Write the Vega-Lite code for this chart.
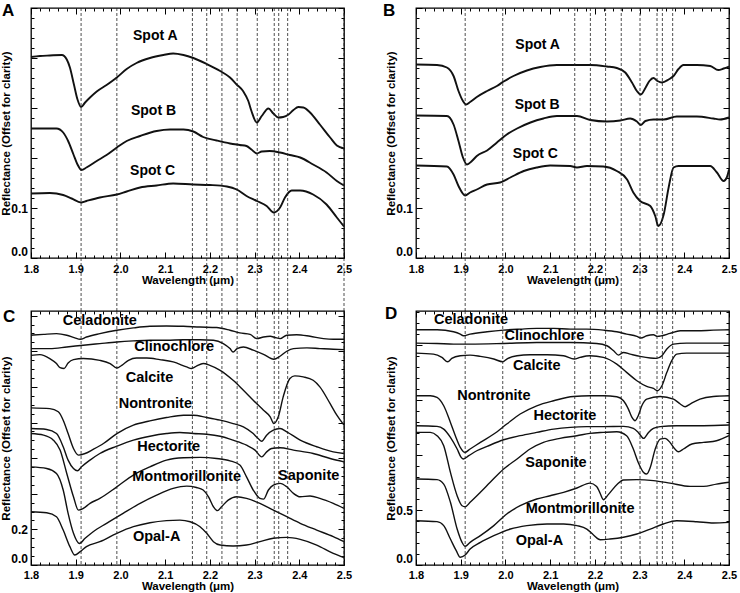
{
"$schema": "https://vega.github.io/schema/vega-lite/v6.json",
"padding": {"left": 0, "top": 0, "right": 0, "bottom": 0},
"background": "white",
"config": {
  "view": {"stroke": "black", "strokeWidth": 1.3},
  "font": "Liberation Sans",
  "axis": {"domain": false, "grid": false, "tickColor": "black", "tickWidth": 1, "labelColor": "black", "labelFont": "Liberation Sans", "labelFontWeight": "bold", "titleFont": "Liberation Sans", "titleFontWeight": "bold", "titleFontSize": 11.5, "titleColor": "black", "labelOverlap": false},
  "text": {"font": "Liberation Sans", "fontWeight": "bold", "color": "black", "align": "center", "baseline": "middle"},
  "line": {"color": "#111", "interpolate": "monotone"},
  "rule": {"color": "#222", "strokeDash": [3, 2], "strokeWidth": 0.8}
},
"datasets": {
"sA": [
{"s":"Spot A","w":1.800,"r":0.402},{"s":"Spot A","w":1.820,"r":0.404},{"s":"Spot A","w":1.842,"r":0.405},{"s":"Spot A","w":1.869,"r":0.406},{"s":"Spot A","w":1.880,"r":0.397},{"s":"Spot A","w":1.887,"r":0.381},{"s":"Spot A","w":1.896,"r":0.347},{"s":"Spot A","w":1.904,"r":0.317},{"s":"Spot A","w":1.912,"r":0.302},{"s":"Spot A","w":1.921,"r":0.311},{"s":"Spot A","w":1.932,"r":0.321},{"s":"Spot A","w":1.947,"r":0.333},{"s":"Spot A","w":1.969,"r":0.346},{"s":"Spot A","w":1.992,"r":0.361},{"s":"Spot A","w":2.014,"r":0.378},{"s":"Spot A","w":2.036,"r":0.390},{"s":"Spot A","w":2.066,"r":0.400},{"s":"Spot A","w":2.096,"r":0.406},{"s":"Spot A","w":2.118,"r":0.409},{"s":"Spot A","w":2.141,"r":0.406},{"s":"Spot A","w":2.163,"r":0.400},{"s":"Spot A","w":2.193,"r":0.388},{"s":"Spot A","w":2.223,"r":0.374},{"s":"Spot A","w":2.245,"r":0.361},{"s":"Spot A","w":2.260,"r":0.347},{"s":"Spot A","w":2.275,"r":0.333},{"s":"Spot A","w":2.286,"r":0.314},{"s":"Spot A","w":2.293,"r":0.294},{"s":"Spot A","w":2.305,"r":0.271},{"s":"Spot A","w":2.316,"r":0.284},{"s":"Spot A","w":2.331,"r":0.299},{"s":"Spot A","w":2.342,"r":0.289},{"s":"Spot A","w":2.353,"r":0.281},{"s":"Spot A","w":2.364,"r":0.282},{"s":"Spot A","w":2.376,"r":0.287},{"s":"Spot A","w":2.387,"r":0.296},{"s":"Spot A","w":2.398,"r":0.302},{"s":"Spot A","w":2.409,"r":0.301},{"s":"Spot A","w":2.424,"r":0.291},{"s":"Spot A","w":2.446,"r":0.267},{"s":"Spot A","w":2.469,"r":0.241},{"s":"Spot A","w":2.484,"r":0.225},{"s":"Spot A","w":2.500,"r":0.219},
{"s":"Spot B","w":1.800,"r":0.259},{"s":"Spot B","w":1.828,"r":0.259},{"s":"Spot B","w":1.857,"r":0.259},{"s":"Spot B","w":1.872,"r":0.251},{"s":"Spot B","w":1.883,"r":0.234},{"s":"Spot B","w":1.895,"r":0.207},{"s":"Spot B","w":1.904,"r":0.187},{"s":"Spot B","w":1.913,"r":0.176},{"s":"Spot B","w":1.924,"r":0.181},{"s":"Spot B","w":1.947,"r":0.194},{"s":"Spot B","w":1.969,"r":0.206},{"s":"Spot B","w":1.992,"r":0.221},{"s":"Spot B","w":2.014,"r":0.234},{"s":"Spot B","w":2.044,"r":0.244},{"s":"Spot B","w":2.081,"r":0.254},{"s":"Spot B","w":2.111,"r":0.257},{"s":"Spot B","w":2.141,"r":0.257},{"s":"Spot B","w":2.163,"r":0.253},{"s":"Spot B","w":2.185,"r":0.242},{"s":"Spot B","w":2.215,"r":0.235},{"s":"Spot B","w":2.245,"r":0.229},{"s":"Spot B","w":2.267,"r":0.226},{"s":"Spot B","w":2.282,"r":0.224},{"s":"Spot B","w":2.293,"r":0.217},{"s":"Spot B","w":2.305,"r":0.209},{"s":"Spot B","w":2.316,"r":0.213},{"s":"Spot B","w":2.334,"r":0.214},{"s":"Spot B","w":2.357,"r":0.211},{"s":"Spot B","w":2.379,"r":0.206},{"s":"Spot B","w":2.402,"r":0.201},{"s":"Spot B","w":2.431,"r":0.187},{"s":"Spot B","w":2.461,"r":0.171},{"s":"Spot B","w":2.484,"r":0.154},{"s":"Spot B","w":2.500,"r":0.145},
{"s":"Spot C","w":1.800,"r":0.129},{"s":"Spot C","w":1.842,"r":0.130},{"s":"Spot C","w":1.872,"r":0.126},{"s":"Spot C","w":1.891,"r":0.119},{"s":"Spot C","w":1.912,"r":0.111},{"s":"Spot C","w":1.924,"r":0.114},{"s":"Spot C","w":1.954,"r":0.121},{"s":"Spot C","w":1.992,"r":0.127},{"s":"Spot C","w":2.014,"r":0.133},{"s":"Spot C","w":2.044,"r":0.141},{"s":"Spot C","w":2.081,"r":0.145},{"s":"Spot C","w":2.118,"r":0.149},{"s":"Spot C","w":2.163,"r":0.147},{"s":"Spot C","w":2.200,"r":0.146},{"s":"Spot C","w":2.238,"r":0.143},{"s":"Spot C","w":2.260,"r":0.137},{"s":"Spot C","w":2.282,"r":0.124},{"s":"Spot C","w":2.305,"r":0.114},{"s":"Spot C","w":2.327,"r":0.104},{"s":"Spot C","w":2.343,"r":0.091},{"s":"Spot C","w":2.357,"r":0.101},{"s":"Spot C","w":2.368,"r":0.121},{"s":"Spot C","w":2.383,"r":0.135},{"s":"Spot C","w":2.402,"r":0.135},{"s":"Spot C","w":2.431,"r":0.127},{"s":"Spot C","w":2.461,"r":0.107},{"s":"Spot C","w":2.484,"r":0.081},{"s":"Spot C","w":2.500,"r":0.063}
],
"sB": [
{"s":"Spot A","w":1.800,"r":0.387},{"s":"Spot A","w":1.847,"r":0.386},{"s":"Spot A","w":1.869,"r":0.381},{"s":"Spot A","w":1.884,"r":0.364},{"s":"Spot A","w":1.895,"r":0.334},{"s":"Spot A","w":1.905,"r":0.314},{"s":"Spot A","w":1.912,"r":0.307},{"s":"Spot A","w":1.921,"r":0.312},{"s":"Spot A","w":1.936,"r":0.322},{"s":"Spot A","w":1.959,"r":0.334},{"s":"Spot A","w":1.981,"r":0.344},{"s":"Spot A","w":1.996,"r":0.353},{"s":"Spot A","w":2.018,"r":0.364},{"s":"Spot A","w":2.048,"r":0.375},{"s":"Spot A","w":2.078,"r":0.382},{"s":"Spot A","w":2.115,"r":0.386},{"s":"Spot A","w":2.152,"r":0.386},{"s":"Spot A","w":2.190,"r":0.386},{"s":"Spot A","w":2.227,"r":0.383},{"s":"Spot A","w":2.249,"r":0.380},{"s":"Spot A","w":2.268,"r":0.371},{"s":"Spot A","w":2.283,"r":0.351},{"s":"Spot A","w":2.294,"r":0.334},{"s":"Spot A","w":2.303,"r":0.327},{"s":"Spot A","w":2.313,"r":0.340},{"s":"Spot A","w":2.322,"r":0.354},{"s":"Spot A","w":2.331,"r":0.360},{"s":"Spot A","w":2.340,"r":0.354},{"s":"Spot A","w":2.350,"r":0.351},{"s":"Spot A","w":2.365,"r":0.357},{"s":"Spot A","w":2.376,"r":0.364},{"s":"Spot A","w":2.387,"r":0.378},{"s":"Spot A","w":2.398,"r":0.386},{"s":"Spot A","w":2.428,"r":0.386},{"s":"Spot A","w":2.458,"r":0.384},{"s":"Spot A","w":2.476,"r":0.376},{"s":"Spot A","w":2.488,"r":0.379},{"s":"Spot A","w":2.500,"r":0.383},
{"s":"Spot B","w":1.800,"r":0.285},{"s":"Spot B","w":1.869,"r":0.284},{"s":"Spot B","w":1.884,"r":0.267},{"s":"Spot B","w":1.895,"r":0.234},{"s":"Spot B","w":1.905,"r":0.201},{"s":"Spot B","w":1.914,"r":0.187},{"s":"Spot B","w":1.925,"r":0.194},{"s":"Spot B","w":1.936,"r":0.204},{"s":"Spot B","w":1.959,"r":0.215},{"s":"Spot B","w":1.981,"r":0.231},{"s":"Spot B","w":2.003,"r":0.247},{"s":"Spot B","w":2.026,"r":0.259},{"s":"Spot B","w":2.056,"r":0.271},{"s":"Spot B","w":2.085,"r":0.279},{"s":"Spot B","w":2.115,"r":0.284},{"s":"Spot B","w":2.160,"r":0.284},{"s":"Spot B","w":2.190,"r":0.276},{"s":"Spot B","w":2.227,"r":0.273},{"s":"Spot B","w":2.257,"r":0.275},{"s":"Spot B","w":2.279,"r":0.279},{"s":"Spot B","w":2.294,"r":0.273},{"s":"Spot B","w":2.303,"r":0.266},{"s":"Spot B","w":2.313,"r":0.274},{"s":"Spot B","w":2.331,"r":0.277},{"s":"Spot B","w":2.354,"r":0.277},{"s":"Spot B","w":2.383,"r":0.283},{"s":"Spot B","w":2.428,"r":0.283},{"s":"Spot B","w":2.465,"r":0.279},{"s":"Spot B","w":2.480,"r":0.277},{"s":"Spot B","w":2.500,"r":0.281},
{"s":"Spot C","w":1.800,"r":0.185},{"s":"Spot C","w":1.869,"r":0.183},{"s":"Spot C","w":1.884,"r":0.167},{"s":"Spot C","w":1.895,"r":0.144},{"s":"Spot C","w":1.910,"r":0.125},{"s":"Spot C","w":1.921,"r":0.131},{"s":"Spot C","w":1.936,"r":0.137},{"s":"Spot C","w":1.959,"r":0.147},{"s":"Spot C","w":1.988,"r":0.151},{"s":"Spot C","w":2.011,"r":0.161},{"s":"Spot C","w":2.041,"r":0.174},{"s":"Spot C","w":2.070,"r":0.181},{"s":"Spot C","w":2.100,"r":0.185},{"s":"Spot C","w":2.145,"r":0.184},{"s":"Spot C","w":2.160,"r":0.181},{"s":"Spot C","w":2.182,"r":0.184},{"s":"Spot C","w":2.219,"r":0.183},{"s":"Spot C","w":2.249,"r":0.174},{"s":"Spot C","w":2.272,"r":0.157},{"s":"Spot C","w":2.286,"r":0.131},{"s":"Spot C","w":2.301,"r":0.114},{"s":"Spot C","w":2.324,"r":0.104},{"s":"Spot C","w":2.335,"r":0.084},{"s":"Spot C","w":2.342,"r":0.064},{"s":"Spot C","w":2.354,"r":0.087},{"s":"Spot C","w":2.365,"r":0.141},{"s":"Spot C","w":2.376,"r":0.181},{"s":"Spot C","w":2.387,"r":0.184},{"s":"Spot C","w":2.458,"r":0.184},{"s":"Spot C","w":2.473,"r":0.171},{"s":"Spot C","w":2.488,"r":0.154},{"s":"Spot C","w":2.495,"r":0.161},{"s":"Spot C","w":2.500,"r":0.177}
],
"sC": [
{"s":"Celadonite","w":1.800,"r":1.290},{"s":"Celadonite","w":1.828,"r":1.295},{"s":"Celadonite","w":1.857,"r":1.299},{"s":"Celadonite","w":1.880,"r":1.290},{"s":"Celadonite","w":1.898,"r":1.275},{"s":"Celadonite","w":1.910,"r":1.267},{"s":"Celadonite","w":1.924,"r":1.280},{"s":"Celadonite","w":1.954,"r":1.299},{"s":"Celadonite","w":1.992,"r":1.318},{"s":"Celadonite","w":2.029,"r":1.331},{"s":"Celadonite","w":2.066,"r":1.340},{"s":"Celadonite","w":2.103,"r":1.342},{"s":"Celadonite","w":2.141,"r":1.340},{"s":"Celadonite","w":2.178,"r":1.336},{"s":"Celadonite","w":2.215,"r":1.333},{"s":"Celadonite","w":2.245,"r":1.318},{"s":"Celadonite","w":2.267,"r":1.303},{"s":"Celadonite","w":2.290,"r":1.295},{"s":"Celadonite","w":2.305,"r":1.271},{"s":"Celadonite","w":2.320,"r":1.280},{"s":"Celadonite","w":2.335,"r":1.284},{"s":"Celadonite","w":2.346,"r":1.277},{"s":"Celadonite","w":2.357,"r":1.271},{"s":"Celadonite","w":2.372,"r":1.290},{"s":"Celadonite","w":2.394,"r":1.293},{"s":"Celadonite","w":2.424,"r":1.284},{"s":"Celadonite","w":2.454,"r":1.271},{"s":"Celadonite","w":2.476,"r":1.267},{"s":"Celadonite","w":2.500,"r":1.267},
{"s":"Clinochlore","w":1.800,"r":1.215},{"s":"Clinochlore","w":1.842,"r":1.215},{"s":"Clinochlore","w":1.880,"r":1.224},{"s":"Clinochlore","w":1.917,"r":1.234},{"s":"Clinochlore","w":1.954,"r":1.243},{"s":"Clinochlore","w":1.992,"r":1.252},{"s":"Clinochlore","w":2.029,"r":1.258},{"s":"Clinochlore","w":2.066,"r":1.262},{"s":"Clinochlore","w":2.103,"r":1.262},{"s":"Clinochlore","w":2.141,"r":1.265},{"s":"Clinochlore","w":2.178,"r":1.265},{"s":"Clinochlore","w":2.208,"r":1.262},{"s":"Clinochlore","w":2.230,"r":1.243},{"s":"Clinochlore","w":2.245,"r":1.215},{"s":"Clinochlore","w":2.252,"r":1.196},{"s":"Clinochlore","w":2.261,"r":1.215},{"s":"Clinochlore","w":2.275,"r":1.224},{"s":"Clinochlore","w":2.297,"r":1.206},{"s":"Clinochlore","w":2.320,"r":1.183},{"s":"Clinochlore","w":2.343,"r":1.155},{"s":"Clinochlore","w":2.357,"r":1.172},{"s":"Clinochlore","w":2.372,"r":1.200},{"s":"Clinochlore","w":2.387,"r":1.215},{"s":"Clinochlore","w":2.417,"r":1.219},{"s":"Clinochlore","w":2.446,"r":1.215},{"s":"Clinochlore","w":2.476,"r":1.211},{"s":"Clinochlore","w":2.500,"r":1.209},
{"s":"Calcite","w":1.800,"r":1.177},{"s":"Calcite","w":1.820,"r":1.181},{"s":"Calcite","w":1.842,"r":1.159},{"s":"Calcite","w":1.857,"r":1.131},{"s":"Calcite","w":1.865,"r":1.108},{"s":"Calcite","w":1.874,"r":1.103},{"s":"Calcite","w":1.883,"r":1.134},{"s":"Calcite","w":1.895,"r":1.153},{"s":"Calcite","w":1.917,"r":1.159},{"s":"Calcite","w":1.954,"r":1.149},{"s":"Calcite","w":1.977,"r":1.131},{"s":"Calcite","w":1.992,"r":1.106},{"s":"Calcite","w":2.003,"r":1.121},{"s":"Calcite","w":2.018,"r":1.149},{"s":"Calcite","w":2.036,"r":1.162},{"s":"Calcite","w":2.059,"r":1.162},{"s":"Calcite","w":2.088,"r":1.153},{"s":"Calcite","w":2.118,"r":1.140},{"s":"Calcite","w":2.148,"r":1.112},{"s":"Calcite","w":2.159,"r":1.103},{"s":"Calcite","w":2.170,"r":1.116},{"s":"Calcite","w":2.185,"r":1.131},{"s":"Calcite","w":2.200,"r":1.121},{"s":"Calcite","w":2.223,"r":1.093},{"s":"Calcite","w":2.252,"r":1.037},{"s":"Calcite","w":2.275,"r":0.981},{"s":"Calcite","w":2.297,"r":0.925},{"s":"Calcite","w":2.320,"r":0.869},{"s":"Calcite","w":2.335,"r":0.832},{"s":"Calcite","w":2.343,"r":0.794},{"s":"Calcite","w":2.353,"r":0.832},{"s":"Calcite","w":2.364,"r":0.944},{"s":"Calcite","w":2.379,"r":1.047},{"s":"Calcite","w":2.390,"r":1.062},{"s":"Calcite","w":2.409,"r":1.056},{"s":"Calcite","w":2.431,"r":1.037},{"s":"Calcite","w":2.446,"r":1.000},{"s":"Calcite","w":2.469,"r":0.906},{"s":"Calcite","w":2.484,"r":0.841},{"s":"Calcite","w":2.500,"r":0.785},
{"s":"Nontronite","w":1.800,"r":0.882},{"s":"Nontronite","w":1.842,"r":0.878},{"s":"Nontronite","w":1.861,"r":0.860},{"s":"Nontronite","w":1.872,"r":0.813},{"s":"Nontronite","w":1.883,"r":0.738},{"s":"Nontronite","w":1.895,"r":0.654},{"s":"Nontronite","w":1.906,"r":0.617},{"s":"Nontronite","w":1.921,"r":0.626},{"s":"Nontronite","w":1.939,"r":0.649},{"s":"Nontronite","w":1.962,"r":0.682},{"s":"Nontronite","w":1.992,"r":0.738},{"s":"Nontronite","w":2.029,"r":0.785},{"s":"Nontronite","w":2.066,"r":0.809},{"s":"Nontronite","w":2.103,"r":0.828},{"s":"Nontronite","w":2.141,"r":0.841},{"s":"Nontronite","w":2.163,"r":0.841},{"s":"Nontronite","w":2.193,"r":0.828},{"s":"Nontronite","w":2.223,"r":0.813},{"s":"Nontronite","w":2.252,"r":0.794},{"s":"Nontronite","w":2.275,"r":0.776},{"s":"Nontronite","w":2.297,"r":0.738},{"s":"Nontronite","w":2.308,"r":0.710},{"s":"Nontronite","w":2.316,"r":0.695},{"s":"Nontronite","w":2.327,"r":0.729},{"s":"Nontronite","w":2.342,"r":0.757},{"s":"Nontronite","w":2.357,"r":0.766},{"s":"Nontronite","w":2.372,"r":0.748},{"s":"Nontronite","w":2.402,"r":0.701},{"s":"Nontronite","w":2.439,"r":0.664},{"s":"Nontronite","w":2.476,"r":0.635},{"s":"Nontronite","w":2.500,"r":0.626},
{"s":"Hectorite","w":1.800,"r":0.766},{"s":"Hectorite","w":1.835,"r":0.761},{"s":"Hectorite","w":1.857,"r":0.738},{"s":"Hectorite","w":1.872,"r":0.664},{"s":"Hectorite","w":1.883,"r":0.589},{"s":"Hectorite","w":1.895,"r":0.542},{"s":"Hectorite","w":1.904,"r":0.529},{"s":"Hectorite","w":1.913,"r":0.551},{"s":"Hectorite","w":1.932,"r":0.589},{"s":"Hectorite","w":1.954,"r":0.626},{"s":"Hectorite","w":1.992,"r":0.667},{"s":"Hectorite","w":2.029,"r":0.701},{"s":"Hectorite","w":2.066,"r":0.723},{"s":"Hectorite","w":2.103,"r":0.738},{"s":"Hectorite","w":2.133,"r":0.744},{"s":"Hectorite","w":2.163,"r":0.738},{"s":"Hectorite","w":2.193,"r":0.734},{"s":"Hectorite","w":2.223,"r":0.723},{"s":"Hectorite","w":2.252,"r":0.701},{"s":"Hectorite","w":2.282,"r":0.673},{"s":"Hectorite","w":2.301,"r":0.645},{"s":"Hectorite","w":2.316,"r":0.607},{"s":"Hectorite","w":2.327,"r":0.635},{"s":"Hectorite","w":2.338,"r":0.654},{"s":"Hectorite","w":2.357,"r":0.658},{"s":"Hectorite","w":2.387,"r":0.645},{"s":"Hectorite","w":2.431,"r":0.626},{"s":"Hectorite","w":2.469,"r":0.598},{"s":"Hectorite","w":2.500,"r":0.579},
{"s":"Saponite","w":1.800,"r":0.738},{"s":"Saponite","w":1.828,"r":0.729},{"s":"Saponite","w":1.850,"r":0.701},{"s":"Saponite","w":1.865,"r":0.645},{"s":"Saponite","w":1.880,"r":0.514},{"s":"Saponite","w":1.895,"r":0.383},{"s":"Saponite","w":1.906,"r":0.308},{"s":"Saponite","w":1.917,"r":0.318},{"s":"Saponite","w":1.932,"r":0.346},{"s":"Saponite","w":1.954,"r":0.374},{"s":"Saponite","w":1.992,"r":0.439},{"s":"Saponite","w":2.029,"r":0.505},{"s":"Saponite","w":2.066,"r":0.551},{"s":"Saponite","w":2.103,"r":0.589},{"s":"Saponite","w":2.141,"r":0.602},{"s":"Saponite","w":2.178,"r":0.604},{"s":"Saponite","w":2.215,"r":0.598},{"s":"Saponite","w":2.245,"r":0.585},{"s":"Saponite","w":2.267,"r":0.561},{"s":"Saponite","w":2.282,"r":0.495},{"s":"Saponite","w":2.297,"r":0.421},{"s":"Saponite","w":2.312,"r":0.374},{"s":"Saponite","w":2.320,"r":0.370},{"s":"Saponite","w":2.331,"r":0.421},{"s":"Saponite","w":2.342,"r":0.449},{"s":"Saponite","w":2.357,"r":0.458},{"s":"Saponite","w":2.372,"r":0.439},{"s":"Saponite","w":2.387,"r":0.402},{"s":"Saponite","w":2.402,"r":0.383},{"s":"Saponite","w":2.424,"r":0.387},{"s":"Saponite","w":2.446,"r":0.374},{"s":"Saponite","w":2.476,"r":0.346},{"s":"Saponite","w":2.500,"r":0.318},
{"s":"Montmorillonite","w":1.800,"r":0.551},{"s":"Montmorillonite","w":1.835,"r":0.542},{"s":"Montmorillonite","w":1.857,"r":0.514},{"s":"Montmorillonite","w":1.872,"r":0.421},{"s":"Montmorillonite","w":1.883,"r":0.290},{"s":"Montmorillonite","w":1.895,"r":0.178},{"s":"Montmorillonite","w":1.908,"r":0.121},{"s":"Montmorillonite","w":1.921,"r":0.150},{"s":"Montmorillonite","w":1.939,"r":0.187},{"s":"Montmorillonite","w":1.969,"r":0.234},{"s":"Montmorillonite","w":2.006,"r":0.290},{"s":"Montmorillonite","w":2.044,"r":0.346},{"s":"Montmorillonite","w":2.081,"r":0.392},{"s":"Montmorillonite","w":2.118,"r":0.430},{"s":"Montmorillonite","w":2.148,"r":0.443},{"s":"Montmorillonite","w":2.170,"r":0.435},{"s":"Montmorillonite","w":2.185,"r":0.421},{"s":"Montmorillonite","w":2.197,"r":0.383},{"s":"Montmorillonite","w":2.208,"r":0.327},{"s":"Montmorillonite","w":2.217,"r":0.305},{"s":"Montmorillonite","w":2.226,"r":0.327},{"s":"Montmorillonite","w":2.241,"r":0.364},{"s":"Montmorillonite","w":2.260,"r":0.383},{"s":"Montmorillonite","w":2.282,"r":0.374},{"s":"Montmorillonite","w":2.312,"r":0.346},{"s":"Montmorillonite","w":2.342,"r":0.308},{"s":"Montmorillonite","w":2.372,"r":0.271},{"s":"Montmorillonite","w":2.402,"r":0.234},{"s":"Montmorillonite","w":2.439,"r":0.196},{"s":"Montmorillonite","w":2.476,"r":0.159},{"s":"Montmorillonite","w":2.500,"r":0.131},
{"s":"Opal-A","w":1.800,"r":0.299},{"s":"Opal-A","w":1.835,"r":0.293},{"s":"Opal-A","w":1.857,"r":0.271},{"s":"Opal-A","w":1.872,"r":0.196},{"s":"Opal-A","w":1.887,"r":0.103},{"s":"Opal-A","w":1.898,"r":0.056},{"s":"Opal-A","w":1.910,"r":0.075},{"s":"Opal-A","w":1.924,"r":0.103},{"s":"Opal-A","w":1.954,"r":0.131},{"s":"Opal-A","w":1.992,"r":0.178},{"s":"Opal-A","w":2.029,"r":0.215},{"s":"Opal-A","w":2.066,"r":0.237},{"s":"Opal-A","w":2.103,"r":0.249},{"s":"Opal-A","w":2.133,"r":0.252},{"s":"Opal-A","w":2.156,"r":0.243},{"s":"Opal-A","w":2.178,"r":0.215},{"s":"Opal-A","w":2.193,"r":0.178},{"s":"Opal-A","w":2.208,"r":0.131},{"s":"Opal-A","w":2.223,"r":0.112},{"s":"Opal-A","w":2.252,"r":0.107},{"s":"Opal-A","w":2.282,"r":0.112},{"s":"Opal-A","w":2.312,"r":0.131},{"s":"Opal-A","w":2.342,"r":0.150},{"s":"Opal-A","w":2.372,"r":0.155},{"s":"Opal-A","w":2.402,"r":0.144},{"s":"Opal-A","w":2.439,"r":0.112},{"s":"Opal-A","w":2.476,"r":0.065},{"s":"Opal-A","w":2.500,"r":0.041}
],
"sD": [
{"s":"Celadonite","w":1.800,"r":2.139},{"s":"Celadonite","w":1.847,"r":2.139},{"s":"Celadonite","w":1.884,"r":2.121},{"s":"Celadonite","w":1.899,"r":2.100},{"s":"Celadonite","w":1.906,"r":2.085},{"s":"Celadonite","w":1.921,"r":2.100},{"s":"Celadonite","w":1.959,"r":2.121},{"s":"Celadonite","w":1.996,"r":2.136},{"s":"Celadonite","w":2.033,"r":2.145},{"s":"Celadonite","w":2.070,"r":2.152},{"s":"Celadonite","w":2.108,"r":2.152},{"s":"Celadonite","w":2.145,"r":2.145},{"s":"Celadonite","w":2.182,"r":2.145},{"s":"Celadonite","w":2.219,"r":2.136},{"s":"Celadonite","w":2.249,"r":2.121},{"s":"Celadonite","w":2.271,"r":2.100},{"s":"Celadonite","w":2.294,"r":2.079},{"s":"Celadonite","w":2.303,"r":2.064},{"s":"Celadonite","w":2.316,"r":2.085},{"s":"Celadonite","w":2.331,"r":2.094},{"s":"Celadonite","w":2.340,"r":2.079},{"s":"Celadonite","w":2.350,"r":2.085},{"s":"Celadonite","w":2.368,"r":2.106},{"s":"Celadonite","w":2.391,"r":2.130},{"s":"Celadonite","w":2.428,"r":2.130},{"s":"Celadonite","w":2.465,"r":2.136},{"s":"Celadonite","w":2.500,"r":2.139},
{"s":"Clinochlore","w":1.800,"r":2.018},{"s":"Clinochlore","w":1.847,"r":2.015},{"s":"Clinochlore","w":1.884,"r":2.009},{"s":"Clinochlore","w":1.921,"r":2.009},{"s":"Clinochlore","w":1.996,"r":2.015},{"s":"Clinochlore","w":2.070,"r":2.024},{"s":"Clinochlore","w":2.145,"r":2.024},{"s":"Clinochlore","w":2.204,"r":2.015},{"s":"Clinochlore","w":2.227,"r":1.994},{"s":"Clinochlore","w":2.242,"r":1.948},{"s":"Clinochlore","w":2.253,"r":1.909},{"s":"Clinochlore","w":2.264,"r":1.933},{"s":"Clinochlore","w":2.279,"r":1.918},{"s":"Clinochlore","w":2.301,"r":1.897},{"s":"Clinochlore","w":2.324,"r":1.882},{"s":"Clinochlore","w":2.338,"r":1.879},{"s":"Clinochlore","w":2.350,"r":1.903},{"s":"Clinochlore","w":2.361,"r":1.964},{"s":"Clinochlore","w":2.376,"r":2.009},{"s":"Clinochlore","w":2.405,"r":2.018},{"s":"Clinochlore","w":2.443,"r":2.018},{"s":"Clinochlore","w":2.500,"r":2.018},
{"s":"Calcite","w":1.800,"r":1.927},{"s":"Calcite","w":1.839,"r":1.918},{"s":"Calcite","w":1.858,"r":1.888},{"s":"Calcite","w":1.871,"r":1.848},{"s":"Calcite","w":1.880,"r":1.879},{"s":"Calcite","w":1.899,"r":1.903},{"s":"Calcite","w":1.921,"r":1.909},{"s":"Calcite","w":1.944,"r":1.897},{"s":"Calcite","w":1.974,"r":1.873},{"s":"Calcite","w":1.994,"r":1.848},{"s":"Calcite","w":2.003,"r":1.873},{"s":"Calcite","w":2.026,"r":1.903},{"s":"Calcite","w":2.055,"r":1.912},{"s":"Calcite","w":2.093,"r":1.912},{"s":"Calcite","w":2.130,"r":1.903},{"s":"Calcite","w":2.154,"r":1.873},{"s":"Calcite","w":2.167,"r":1.888},{"s":"Calcite","w":2.189,"r":1.903},{"s":"Calcite","w":2.219,"r":1.888},{"s":"Calcite","w":2.249,"r":1.827},{"s":"Calcite","w":2.271,"r":1.752},{"s":"Calcite","w":2.294,"r":1.676},{"s":"Calcite","w":2.316,"r":1.624},{"s":"Calcite","w":2.331,"r":1.606},{"s":"Calcite","w":2.340,"r":1.585},{"s":"Calcite","w":2.350,"r":1.630},{"s":"Calcite","w":2.361,"r":1.752},{"s":"Calcite","w":2.372,"r":1.858},{"s":"Calcite","w":2.383,"r":1.918},{"s":"Calcite","w":2.405,"r":1.927},{"s":"Calcite","w":2.443,"r":1.927},{"s":"Calcite","w":2.500,"r":1.927},
{"s":"Nontronite","w":1.800,"r":1.539},{"s":"Nontronite","w":1.832,"r":1.539},{"s":"Nontronite","w":1.847,"r":1.524},{"s":"Nontronite","w":1.862,"r":1.448},{"s":"Nontronite","w":1.877,"r":1.297},{"s":"Nontronite","w":1.888,"r":1.176},{"s":"Nontronite","w":1.899,"r":1.070},{"s":"Nontronite","w":1.909,"r":1.024},{"s":"Nontronite","w":1.921,"r":1.055},{"s":"Nontronite","w":1.944,"r":1.115},{"s":"Nontronite","w":1.974,"r":1.191},{"s":"Nontronite","w":2.003,"r":1.282},{"s":"Nontronite","w":2.033,"r":1.373},{"s":"Nontronite","w":2.070,"r":1.448},{"s":"Nontronite","w":2.108,"r":1.494},{"s":"Nontronite","w":2.152,"r":1.533},{"s":"Nontronite","w":2.189,"r":1.539},{"s":"Nontronite","w":2.219,"r":1.539},{"s":"Nontronite","w":2.249,"r":1.530},{"s":"Nontronite","w":2.264,"r":1.494},{"s":"Nontronite","w":2.275,"r":1.418},{"s":"Nontronite","w":2.283,"r":1.342},{"s":"Nontronite","w":2.290,"r":1.312},{"s":"Nontronite","w":2.297,"r":1.358},{"s":"Nontronite","w":2.305,"r":1.448},{"s":"Nontronite","w":2.316,"r":1.509},{"s":"Nontronite","w":2.346,"r":1.533},{"s":"Nontronite","w":2.376,"r":1.509},{"s":"Nontronite","w":2.391,"r":1.464},{"s":"Nontronite","w":2.402,"r":1.439},{"s":"Nontronite","w":2.413,"r":1.464},{"s":"Nontronite","w":2.435,"r":1.509},{"s":"Nontronite","w":2.465,"r":1.533},{"s":"Nontronite","w":2.500,"r":1.539},
{"s":"Hectorite","w":1.800,"r":1.267},{"s":"Hectorite","w":1.847,"r":1.261},{"s":"Hectorite","w":1.862,"r":1.236},{"s":"Hectorite","w":1.877,"r":1.161},{"s":"Hectorite","w":1.892,"r":1.055},{"s":"Hectorite","w":1.901,"r":0.979},{"s":"Hectorite","w":1.906,"r":0.964},{"s":"Hectorite","w":1.918,"r":0.994},{"s":"Hectorite","w":1.936,"r":1.039},{"s":"Hectorite","w":1.959,"r":1.079},{"s":"Hectorite","w":1.996,"r":1.139},{"s":"Hectorite","w":2.033,"r":1.176},{"s":"Hectorite","w":2.070,"r":1.206},{"s":"Hectorite","w":2.108,"r":1.236},{"s":"Hectorite","w":2.145,"r":1.252},{"s":"Hectorite","w":2.182,"r":1.258},{"s":"Hectorite","w":2.219,"r":1.258},{"s":"Hectorite","w":2.264,"r":1.261},{"s":"Hectorite","w":2.286,"r":1.242},{"s":"Hectorite","w":2.297,"r":1.206},{"s":"Hectorite","w":2.309,"r":1.152},{"s":"Hectorite","w":2.320,"r":1.206},{"s":"Hectorite","w":2.331,"r":1.242},{"s":"Hectorite","w":2.346,"r":1.258},{"s":"Hectorite","w":2.383,"r":1.267},{"s":"Hectorite","w":2.443,"r":1.267},{"s":"Hectorite","w":2.500,"r":1.273},
{"s":"Saponite","w":1.800,"r":1.206},{"s":"Saponite","w":1.832,"r":1.206},{"s":"Saponite","w":1.847,"r":1.176},{"s":"Saponite","w":1.862,"r":1.085},{"s":"Saponite","w":1.877,"r":0.842},{"s":"Saponite","w":1.892,"r":0.630},{"s":"Saponite","w":1.903,"r":0.539},{"s":"Saponite","w":1.910,"r":0.530},{"s":"Saponite","w":1.921,"r":0.570},{"s":"Saponite","w":1.944,"r":0.661},{"s":"Saponite","w":1.966,"r":0.752},{"s":"Saponite","w":1.996,"r":0.873},{"s":"Saponite","w":2.026,"r":0.964},{"s":"Saponite","w":2.055,"r":1.055},{"s":"Saponite","w":2.085,"r":1.115},{"s":"Saponite","w":2.122,"r":1.152},{"s":"Saponite","w":2.160,"r":1.176},{"s":"Saponite","w":2.189,"r":1.197},{"s":"Saponite","w":2.219,"r":1.206},{"s":"Saponite","w":2.249,"r":1.212},{"s":"Saponite","w":2.271,"r":1.176},{"s":"Saponite","w":2.286,"r":1.055},{"s":"Saponite","w":2.297,"r":0.933},{"s":"Saponite","w":2.309,"r":0.842},{"s":"Saponite","w":2.316,"r":0.827},{"s":"Saponite","w":2.324,"r":0.888},{"s":"Saponite","w":2.335,"r":1.055},{"s":"Saponite","w":2.346,"r":1.145},{"s":"Saponite","w":2.357,"r":1.152},{"s":"Saponite","w":2.368,"r":1.115},{"s":"Saponite","w":2.379,"r":1.055},{"s":"Saponite","w":2.387,"r":1.030},{"s":"Saponite","w":2.398,"r":1.055},{"s":"Saponite","w":2.417,"r":1.100},{"s":"Saponite","w":2.443,"r":1.115},{"s":"Saponite","w":2.472,"r":1.130},{"s":"Saponite","w":2.500,"r":1.176},
{"s":"Montmorillonite","w":1.800,"r":0.782},{"s":"Montmorillonite","w":1.847,"r":0.776},{"s":"Montmorillonite","w":1.862,"r":0.736},{"s":"Montmorillonite","w":1.877,"r":0.570},{"s":"Montmorillonite","w":1.892,"r":0.327},{"s":"Montmorillonite","w":1.903,"r":0.206},{"s":"Montmorillonite","w":1.910,"r":0.170},{"s":"Montmorillonite","w":1.921,"r":0.206},{"s":"Montmorillonite","w":1.944,"r":0.267},{"s":"Montmorillonite","w":1.974,"r":0.358},{"s":"Montmorillonite","w":2.003,"r":0.464},{"s":"Montmorillonite","w":2.033,"r":0.539},{"s":"Montmorillonite","w":2.070,"r":0.600},{"s":"Montmorillonite","w":2.100,"r":0.630},{"s":"Montmorillonite","w":2.130,"r":0.661},{"s":"Montmorillonite","w":2.160,"r":0.700},{"s":"Montmorillonite","w":2.189,"r":0.745},{"s":"Montmorillonite","w":2.204,"r":0.715},{"s":"Montmorillonite","w":2.212,"r":0.650},{"s":"Montmorillonite","w":2.219,"r":0.594},{"s":"Montmorillonite","w":2.230,"r":0.640},{"s":"Montmorillonite","w":2.249,"r":0.730},{"s":"Montmorillonite","w":2.264,"r":0.773},{"s":"Montmorillonite","w":2.294,"r":0.776},{"s":"Montmorillonite","w":2.331,"r":0.767},{"s":"Montmorillonite","w":2.368,"r":0.745},{"s":"Montmorillonite","w":2.413,"r":0.715},{"s":"Montmorillonite","w":2.443,"r":0.715},{"s":"Montmorillonite","w":2.472,"r":0.736},{"s":"Montmorillonite","w":2.500,"r":0.752},
{"s":"Opal-A","w":1.800,"r":0.403},{"s":"Opal-A","w":1.847,"r":0.394},{"s":"Opal-A","w":1.862,"r":0.358},{"s":"Opal-A","w":1.877,"r":0.236},{"s":"Opal-A","w":1.890,"r":0.130},{"s":"Opal-A","w":1.899,"r":0.070},{"s":"Opal-A","w":1.910,"r":0.091},{"s":"Opal-A","w":1.921,"r":0.145},{"s":"Opal-A","w":1.944,"r":0.206},{"s":"Opal-A","w":1.974,"r":0.267},{"s":"Opal-A","w":2.011,"r":0.327},{"s":"Opal-A","w":2.048,"r":0.358},{"s":"Opal-A","w":2.093,"r":0.373},{"s":"Opal-A","w":2.130,"r":0.373},{"s":"Opal-A","w":2.160,"r":0.358},{"s":"Opal-A","w":2.182,"r":0.327},{"s":"Opal-A","w":2.197,"r":0.273},{"s":"Opal-A","w":2.212,"r":0.230},{"s":"Opal-A","w":2.234,"r":0.236},{"s":"Opal-A","w":2.264,"r":0.252},{"s":"Opal-A","w":2.294,"r":0.282},{"s":"Opal-A","w":2.324,"r":0.327},{"s":"Opal-A","w":2.353,"r":0.373},{"s":"Opal-A","w":2.383,"r":0.403},{"s":"Opal-A","w":2.428,"r":0.394},{"s":"Opal-A","w":2.465,"r":0.382},{"s":"Opal-A","w":2.500,"r":0.388}
],
"rL": [{"w":1.912},{"w":1.992},{"w":2.161},{"w":2.193},{"w":2.227},{"w":2.261},{"w":2.306},{"w":2.344},{"w":2.354},{"w":2.374},{"w":2.5}],
"rR": [{"w":1.910},{"w":1.994},{"w":2.155},{"w":2.190},{"w":2.224},{"w":2.259},{"w":2.301},{"w":2.339},{"w":2.351},{"w":2.374}],
"tA": [{"t":"Spot A","w":2.078,"r":0.444},{"t":"Spot B","w":2.074,"r":0.294},{"t":"Spot C","w":2.072,"r":0.174}],
"tB": [{"t":"Spot A","w":2.072,"r":0.427},{"t":"Spot B","w":2.071,"r":0.307},{"t":"Spot C","w":2.067,"r":0.209}],
"tC": [{"t":"Celadonite","w":1.954,"r":1.368},{"t":"Clinochlore","w":2.120,"r":1.224},{"t":"Calcite","w":2.065,"r":1.049},{"t":"Nontronite","w":2.078,"r":0.903},{"t":"Hectorite","w":2.108,"r":0.662},{"t":"Montmorillonite","w":2.148,"r":0.492},{"t":"Saponite","w":2.421,"r":0.501},{"t":"Opal-A","w":2.081,"r":0.155}],
"tD": [{"t":"Celadonite","w":1.923,"r":2.230},{"t":"Clinochlore","w":2.087,"r":2.085},{"t":"Calcite","w":2.070,"r":1.806},{"t":"Nontronite","w":1.974,"r":1.533},{"t":"Hectorite","w":2.133,"r":1.355},{"t":"Saponite","w":2.113,"r":0.930},{"t":"Montmorillonite","w":2.167,"r":0.506},{"t":"Opal-A","w":2.076,"r":0.221}]
},
"columns": 2,
"spacing": {"row": 53, "column": 72},
"bounds": "flush",
"concat": [
{
  "width": 313, "height": 250,
  "title": {"text": "A", "anchor": "start", "frame": "group", "dx": -29, "offset": -12.5, "baseline": "top", "fontSize": 17, "font": "Liberation Sans", "fontWeight": "bold", "color": "black"},
  "layer": [
    {"data": {"name": "sA"}, "mark": {"type": "line", "strokeWidth": 1.9},
     "encoding": {
       "x": {"field": "w", "type": "quantitative", "scale": {"domain": [1.8, 2.5], "nice": false},
             "axis": {"orient": "bottom", "values": [1.8,1.82,1.84,1.86,1.88,1.9,1.92,1.94,1.96,1.98,2,2.02,2.04,2.06,2.08,2.1,2.12,2.14,2.16,2.18,2.2,2.22,2.24,2.26,2.28,2.3,2.32,2.34,2.36,2.38,2.4,2.42,2.44,2.46,2.48,2.5],
                      "labelExpr": "abs(datum.value*10-round(datum.value*10))<0.01 ? format(datum.value,'.1f') : ''",
                      "tickSize": {"condition": {"test": "abs(datum.value*10-round(datum.value*10))<0.01", "value": -6}, "value": -3},
                      "labelPadding": 11, "labelFlush": false, "labelFontSize": 11, "title": "Wavelength (μm)", "titlePadding": -3}},
       "y": {"field": "r", "type": "quantitative", "scale": {"domain": [0, 0.5], "nice": false},
             "axis": {"orient": "left", "values": [0,0.02,0.04,0.06,0.08,0.1,0.12,0.14,0.16,0.18,0.2,0.22,0.24,0.26,0.28,0.3,0.32,0.34,0.36,0.38,0.4,0.42,0.44,0.46,0.48,0.5],
                      "labelExpr": "datum.value<0.001 ? '0.0' : abs(datum.value-0.1)<0.001 ? '0.1' : ''",
                      "tickSize": {"condition": {"test": "abs(datum.value*10-round(datum.value*10))<0.01", "value": -6}, "value": -3},
                      "labelPadding": 9.5, "labelFlush": true, "labelFontSize": 12, "title": "Reflectance (Offset for clarity)", "titlePadding": -1}},
       "detail": {"field": "s"}
     }},
    {"data": {"name": "rL"}, "mark": {"type": "rule", "clip": false},
     "encoding": {"x": {"field": "w", "type": "quantitative", "axis": null}, "y": {"datum": 0.5, "type": "quantitative", "axis": null}, "y2": {"datum": -0.106}}},
    {"data": {"name": "tA"}, "mark": {"type": "text", "fontSize": 14},
     "encoding": {
       "x": {"field": "w", "type": "quantitative", "axis": {"orient": "top", "labels": false, "title": null, "values": [1.8,1.82,1.84,1.86,1.88,1.9,1.92,1.94,1.96,1.98,2,2.02,2.04,2.06,2.08,2.1,2.12,2.14,2.16,2.18,2.2,2.22,2.24,2.26,2.28,2.3,2.32,2.34,2.36,2.38,2.4,2.42,2.44,2.46,2.48,2.5], "tickSize": {"condition": {"test": "abs(datum.value*10-round(datum.value*10))<0.01", "value": -6}, "value": -3}}},
       "y": {"field": "r", "type": "quantitative", "axis": {"orient": "right", "labels": false, "title": null, "values": [0,0.02,0.04,0.06,0.08,0.1,0.12,0.14,0.16,0.18,0.2,0.22,0.24,0.26,0.28,0.3,0.32,0.34,0.36,0.38,0.4,0.42,0.44,0.46,0.48,0.5], "tickSize": {"condition": {"test": "abs(datum.value*10-round(datum.value*10))<0.01", "value": -6}, "value": -3}}},
       "text": {"field": "t"}
     }}
  ],
  "resolve": {"axis": {"x": "independent", "y": "independent"}}
},
{
  "width": 313, "height": 250,
  "title": {"text": "B", "anchor": "start", "frame": "group", "dx": -33, "offset": -12.5, "baseline": "top", "fontSize": 17, "font": "Liberation Sans", "fontWeight": "bold", "color": "black"},
  "layer": [
    {"data": {"name": "sB"}, "mark": {"type": "line", "strokeWidth": 1.9},
     "encoding": {
       "x": {"field": "w", "type": "quantitative", "scale": {"domain": [1.8, 2.5], "nice": false},
             "axis": {"orient": "bottom", "values": [1.8,1.82,1.84,1.86,1.88,1.9,1.92,1.94,1.96,1.98,2,2.02,2.04,2.06,2.08,2.1,2.12,2.14,2.16,2.18,2.2,2.22,2.24,2.26,2.28,2.3,2.32,2.34,2.36,2.38,2.4,2.42,2.44,2.46,2.48,2.5],
                      "labelExpr": "abs(datum.value*10-round(datum.value*10))<0.01 ? format(datum.value,'.1f') : ''",
                      "tickSize": {"condition": {"test": "abs(datum.value*10-round(datum.value*10))<0.01", "value": -6}, "value": -3},
                      "labelPadding": 11, "labelFlush": false, "labelFontSize": 11, "title": "Wavelength (μm)", "titlePadding": -3}},
       "y": {"field": "r", "type": "quantitative", "scale": {"domain": [0, 0.5], "nice": false},
             "axis": {"orient": "left", "values": [0,0.02,0.04,0.06,0.08,0.1,0.12,0.14,0.16,0.18,0.2,0.22,0.24,0.26,0.28,0.3,0.32,0.34,0.36,0.38,0.4,0.42,0.44,0.46,0.48,0.5],
                      "labelExpr": "datum.value<0.001 ? '0.0' : abs(datum.value-0.1)<0.001 ? '0.1' : ''",
                      "tickSize": {"condition": {"test": "abs(datum.value*10-round(datum.value*10))<0.01", "value": -6}, "value": -3},
                      "labelPadding": 9.5, "labelFlush": true, "labelFontSize": 12, "title": "Reflectance (Offset for clarity)", "titlePadding": -1}},
       "detail": {"field": "s"}
     }},
    {"data": {"name": "rR"}, "mark": {"type": "rule", "clip": false},
     "encoding": {"x": {"field": "w", "type": "quantitative", "axis": null}, "y": {"datum": 0.5, "type": "quantitative", "axis": null}, "y2": {"datum": -0.106}}},
    {"data": {"name": "tB"}, "mark": {"type": "text", "fontSize": 14},
     "encoding": {
       "x": {"field": "w", "type": "quantitative", "axis": {"orient": "top", "labels": false, "title": null, "values": [1.8,1.82,1.84,1.86,1.88,1.9,1.92,1.94,1.96,1.98,2,2.02,2.04,2.06,2.08,2.1,2.12,2.14,2.16,2.18,2.2,2.22,2.24,2.26,2.28,2.3,2.32,2.34,2.36,2.38,2.4,2.42,2.44,2.46,2.48,2.5], "tickSize": {"condition": {"test": "abs(datum.value*10-round(datum.value*10))<0.01", "value": -6}, "value": -3}}},
       "y": {"field": "r", "type": "quantitative", "axis": {"orient": "right", "labels": false, "title": null, "values": [0,0.02,0.04,0.06,0.08,0.1,0.12,0.14,0.16,0.18,0.2,0.22,0.24,0.26,0.28,0.3,0.32,0.34,0.36,0.38,0.4,0.42,0.44,0.46,0.48,0.5], "tickSize": {"condition": {"test": "abs(datum.value*10-round(datum.value*10))<0.01", "value": -6}, "value": -3}}},
       "text": {"field": "t"}
     }}
  ],
  "resolve": {"axis": {"x": "independent", "y": "independent"}}
},
{
  "width": 313, "height": 254,
  "title": {"text": "C", "anchor": "start", "frame": "group", "dx": -28, "offset": -16.5, "baseline": "top", "fontSize": 17, "font": "Liberation Sans", "fontWeight": "bold", "color": "black"},
  "layer": [
    {"data": {"name": "sC"}, "mark": {"type": "line", "strokeWidth": 1.4},
     "encoding": {
       "x": {"field": "w", "type": "quantitative", "scale": {"domain": [1.8, 2.5], "nice": false},
             "axis": {"orient": "bottom", "values": [1.8,1.82,1.84,1.86,1.88,1.9,1.92,1.94,1.96,1.98,2,2.02,2.04,2.06,2.08,2.1,2.12,2.14,2.16,2.18,2.2,2.22,2.24,2.26,2.28,2.3,2.32,2.34,2.36,2.38,2.4,2.42,2.44,2.46,2.48,2.5],
                      "labelExpr": "abs(datum.value*10-round(datum.value*10))<0.01 ? format(datum.value,'.1f') : ''",
                      "tickSize": {"condition": {"test": "abs(datum.value*10-round(datum.value*10))<0.01", "value": -6}, "value": -3},
                      "labelPadding": 10, "labelFlush": false, "labelFontSize": 11, "title": "Wavelength (μm)", "titlePadding": -3}},
       "y": {"field": "r", "type": "quantitative", "scale": {"domain": [0, 1.426], "nice": false},
             "axis": {"orient": "left", "values": [0,0.05,0.1,0.15,0.2,0.25,0.3,0.35,0.4,0.45,0.5,0.55,0.6,0.65,0.7,0.75,0.8,0.85,0.9,0.95,1,1.05,1.1,1.15,1.2,1.25,1.3,1.35,1.4],
                      "labelExpr": "datum.value<0.001 ? '0.0' : abs(datum.value-0.2)<0.001 ? '0.2' : ''",
                      "tickSize": {"condition": {"test": "abs(datum.value*5-round(datum.value*5))<0.01", "value": -6}, "value": -3},
                      "labelPadding": 9.5, "labelFlush": true, "labelFontSize": 12, "title": "Reflectance (Offset for clarity)", "titlePadding": -1}},
       "detail": {"field": "s"}
     }},
    {"data": {"name": "rL"}, "mark": {"type": "rule", "clip": false},
     "encoding": {"x": {"field": "w", "type": "quantitative", "axis": null}, "y": {"datum": 1.426, "type": "quantitative", "axis": null}, "y2": {"datum": 0}}},
    {"data": {"name": "tC"}, "mark": {"type": "text", "fontSize": 14.5},
     "encoding": {
       "x": {"field": "w", "type": "quantitative", "axis": {"orient": "top", "labels": false, "title": null, "values": [1.8,1.82,1.84,1.86,1.88,1.9,1.92,1.94,1.96,1.98,2,2.02,2.04,2.06,2.08,2.1,2.12,2.14,2.16,2.18,2.2,2.22,2.24,2.26,2.28,2.3,2.32,2.34,2.36,2.38,2.4,2.42,2.44,2.46,2.48,2.5], "tickSize": {"condition": {"test": "abs(datum.value*10-round(datum.value*10))<0.01", "value": -6}, "value": -3}}},
       "y": {"field": "r", "type": "quantitative", "axis": {"orient": "right", "labels": false, "title": null, "values": [0,0.05,0.1,0.15,0.2,0.25,0.3,0.35,0.4,0.45,0.5,0.55,0.6,0.65,0.7,0.75,0.8,0.85,0.9,0.95,1,1.05,1.1,1.15,1.2,1.25,1.3,1.35,1.4], "tickSize": {"condition": {"test": "abs(datum.value*5-round(datum.value*5))<0.01", "value": -6}, "value": -3}}},
       "text": {"field": "t"}
     }}
  ],
  "resolve": {"axis": {"x": "independent", "y": "independent"}}
},
{
  "width": 313, "height": 254,
  "title": {"text": "D", "anchor": "start", "frame": "group", "dx": -31, "offset": -16.5, "baseline": "top", "fontSize": 17, "font": "Liberation Sans", "fontWeight": "bold", "color": "black"},
  "layer": [
    {"data": {"name": "sD"}, "mark": {"type": "line", "strokeWidth": 1.4},
     "encoding": {
       "x": {"field": "w", "type": "quantitative", "scale": {"domain": [1.8, 2.5], "nice": false},
             "axis": {"orient": "bottom", "values": [1.8,1.82,1.84,1.86,1.88,1.9,1.92,1.94,1.96,1.98,2,2.02,2.04,2.06,2.08,2.1,2.12,2.14,2.16,2.18,2.2,2.22,2.24,2.26,2.28,2.3,2.32,2.34,2.36,2.38,2.4,2.42,2.44,2.46,2.48,2.5],
                      "labelExpr": "abs(datum.value*10-round(datum.value*10))<0.01 ? format(datum.value,'.1f') : ''",
                      "tickSize": {"condition": {"test": "abs(datum.value*10-round(datum.value*10))<0.01", "value": -6}, "value": -3},
                      "labelPadding": 10, "labelFlush": false, "labelFontSize": 11, "title": "Wavelength (μm)", "titlePadding": -3}},
       "y": {"field": "r", "type": "quantitative", "scale": {"domain": [0, 2.31], "nice": false},
             "axis": {"orient": "left", "values": [0,0.1,0.2,0.3,0.4,0.5,0.6,0.7,0.8,0.9,1,1.1,1.2,1.3,1.4,1.5,1.6,1.7,1.8,1.9,2,2.1,2.2,2.3],
                      "labelExpr": "datum.value<0.001 ? '0.0' : abs(datum.value-0.5)<0.001 ? '0.5' : ''",
                      "tickSize": {"condition": {"test": "abs(datum.value*2-round(datum.value*2))<0.01", "value": -6}, "value": -3},
                      "labelPadding": 9.5, "labelFlush": true, "labelFontSize": 12, "title": "Reflectance (Offset for clarity)", "titlePadding": -1}},
       "detail": {"field": "s"}
     }},
    {"data": {"name": "rR"}, "mark": {"type": "rule", "clip": false},
     "encoding": {"x": {"field": "w", "type": "quantitative", "axis": null}, "y": {"datum": 2.31, "type": "quantitative", "axis": null}, "y2": {"datum": 0}}},
    {"data": {"name": "tD"}, "mark": {"type": "text", "fontSize": 14.5},
     "encoding": {
       "x": {"field": "w", "type": "quantitative", "axis": {"orient": "top", "labels": false, "title": null, "values": [1.8,1.82,1.84,1.86,1.88,1.9,1.92,1.94,1.96,1.98,2,2.02,2.04,2.06,2.08,2.1,2.12,2.14,2.16,2.18,2.2,2.22,2.24,2.26,2.28,2.3,2.32,2.34,2.36,2.38,2.4,2.42,2.44,2.46,2.48,2.5], "tickSize": {"condition": {"test": "abs(datum.value*10-round(datum.value*10))<0.01", "value": -6}, "value": -3}}},
       "y": {"field": "r", "type": "quantitative", "axis": {"orient": "right", "labels": false, "title": null, "values": [0,0.1,0.2,0.3,0.4,0.5,0.6,0.7,0.8,0.9,1,1.1,1.2,1.3,1.4,1.5,1.6,1.7,1.8,1.9,2,2.1,2.2,2.3], "tickSize": {"condition": {"test": "abs(datum.value*2-round(datum.value*2))<0.01", "value": -6}, "value": -3}}},
       "text": {"field": "t"}
     }}
  ],
  "resolve": {"axis": {"x": "independent", "y": "independent"}}
}
]
}
